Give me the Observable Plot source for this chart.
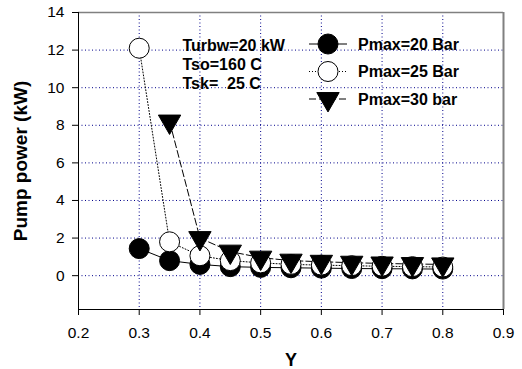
<!DOCTYPE html>
<html>
<head>
<meta charset="utf-8">
<script src="https://cdn.jsdelivr.net/npm/d3@7"></script>
<script src="https://cdn.jsdelivr.net/npm/@observablehq/plot@0.6"></script>
<style>
  html, body { margin: 0; padding: 0; background: white; }
</style>
</head>
<body>
<div id="chart"></div>
<script>
// ---- data ----
const yValues20 = [0.3, 0.35, 0.4, 0.45, 0.5, 0.55, 0.6, 0.65, 0.7, 0.75, 0.8];
const pump20 = [1.44, 0.8, 0.6, 0.48, 0.44, 0.42, 0.4, 0.38, 0.37, 0.36, 0.35];
const yValues25 = [0.3, 0.35, 0.4, 0.45, 0.5, 0.55, 0.6, 0.65, 0.7, 0.75, 0.8];
const pump25 = [12.1, 1.8, 1.06, 0.8, 0.68, 0.6, 0.56, 0.53, 0.5, 0.48, 0.46];
const yValues30 = [0.35, 0.4, 0.45, 0.5, 0.55, 0.6, 0.65, 0.7, 0.75, 0.8];
const pump30 = [8.2, 2.0, 1.28, 0.96, 0.8, 0.74, 0.69, 0.65, 0.62, 0.6];

const xTicks = [0.2, 0.3, 0.4, 0.5, 0.6, 0.7, 0.8, 0.9];
const yTicks = [0, 2, 4, 6, 8, 10, 12, 14];
const xGrid = [0.3, 0.4, 0.5, 0.6, 0.7, 0.8];
const yGrid = [0, 2, 4, 6, 8, 10, 12];
const xDomain = [0.2, 0.9];
const yDomain = [-1.8, 14];

const annotationLines = ["Turbw=20 kW", "Tso=160 C", "Tsk=  25 C"];
const legendLabels = ["Pmax=20 Bar", "Pmax=25 Bar", "Pmax=30 bar"];
const xLabel = "Y";
const yLabel = "Pump power (kW)";

const rows20 = yValues20.map((x, i) => ({x, y: pump20[i]}));
const rows25 = yValues25.map((x, i) => ({x, y: pump25[i]}));
const rows30 = yValues30.map((x, i) => ({x, y: pump30[i]}));

const font = "'Liberation Sans', Arial, sans-serif";
const gridColor = "#00008b";

const chart = Plot.plot({
  width: 522,
  height: 369,
  marginLeft: 78,
  marginRight: 19,
  marginTop: 12,
  marginBottom: 60,
  style: {fontFamily: font, fontSize: "15px", color: "black", background: "white"},
  x: {domain: xDomain},
  y: {domain: yDomain},
  marks: [
    Plot.gridX(xGrid, {stroke: gridColor, strokeOpacity: 1, strokeDasharray: "1,2.5", strokeWidth: 1}),
    Plot.gridY(yGrid, {stroke: gridColor, strokeOpacity: 1, strokeDasharray: "1,2.5", strokeWidth: 1}),
    Plot.ruleX([xDomain[1]], {stroke: "#808080", strokeWidth: 2}),
    Plot.ruleY([yDomain[1]], {stroke: "#808080", strokeWidth: 1.5}),
    Plot.ruleX([xDomain[0]], {stroke: "black", strokeWidth: 1}),
    Plot.ruleY([yDomain[0]], {stroke: "black", strokeWidth: 1}),
    Plot.axisX({ticks: xTicks, tickFormat: d3.format(".1f"), tickSize: 6, tickPadding: 11, label: null, fontSize: 15.5}),
    Plot.axisY({ticks: yTicks, tickFormat: d3.format("d"), tickSize: 6, tickPadding: 8, label: null, fontSize: 15.5}),
    // lines
    Plot.line(rows20, {x: "x", y: "y", stroke: "black", strokeWidth: 1}),
    Plot.line(rows25, {x: "x", y: "y", stroke: "black", strokeWidth: 1, strokeDasharray: "1,2"}),
    Plot.line(rows30, {x: "x", y: "y", stroke: "black", strokeWidth: 1, strokeDasharray: "7,3"}),
    // markers
    Plot.dot(rows20, {x: "x", y: "y", r: 10, fill: "black", stroke: "black", strokeWidth: 1}),
    Plot.dot(rows25, {x: "x", y: "y", r: 10, fill: "white", stroke: "black", strokeWidth: 1}),
    Plot.dot(rows30, {x: "x", y: "y", r: 8.3, symbol: "triangle", rotate: 180, fill: "black", stroke: "black", strokeWidth: 1}),
    // annotation
    Plot.text([annotationLines.join("\n")], {frameAnchor: "top-left", dx: 104, dy: 51, lineAnchor: "middle", textAnchor: "start", lineHeight: 1.19, fontSize: 16, fontWeight: "bold", fill: "black"}),
    // axis labels
    Plot.text([yLabel], {frameAnchor: "left", textAnchor: "middle", lineAnchor: "middle", dx: -58, rotate: -90, fontSize: 19, fontWeight: "bold", fill: "black"}),
    Plot.text([xLabel], {frameAnchor: "bottom", textAnchor: "middle", lineAnchor: "middle", dy: 51, fontSize: 18, fontWeight: "bold", fill: "black"})
  ]
});

// legend
const svg = d3.select(chart);
const legendSymbols = [
  {type: "circle", fill: "black", dash: null},
  {type: "circle", fill: "white", dash: "1,2"},
  {type: "triangle", fill: "black", dash: "7,3"}
];
const lg = svg.append("g").attr("font-family", font).attr("font-size", 16).attr("font-weight", "bold");
legendLabels.forEach((label, i) => {
  const cy = 44 + i * 27.5;
  const s = legendSymbols[i];
  lg.append("line").attr("x1", 309).attr("x2", 347).attr("y1", cy).attr("y2", cy)
    .attr("stroke", "black").attr("stroke-width", 1).attr("stroke-dasharray", s.dash);
  if (s.type === "circle") {
    lg.append("circle").attr("cx", 328).attr("cy", cy).attr("r", 10).attr("fill", s.fill).attr("stroke", "black");
  } else {
    lg.append("path").attr("d", d3.symbol(d3.symbolTriangle, Math.PI * 8.3 * 8.3)())
      .attr("transform", `translate(328,${cy}) rotate(180)`).attr("fill", s.fill).attr("stroke", "black");
  }
  lg.append("text").attr("x", 358).attr("y", cy).attr("dy", "0.35em").attr("text-anchor", "start")
    .attr("fill", "black").text(label);
});

document.getElementById("chart").appendChild(chart);
</script>
</body>
</html>
